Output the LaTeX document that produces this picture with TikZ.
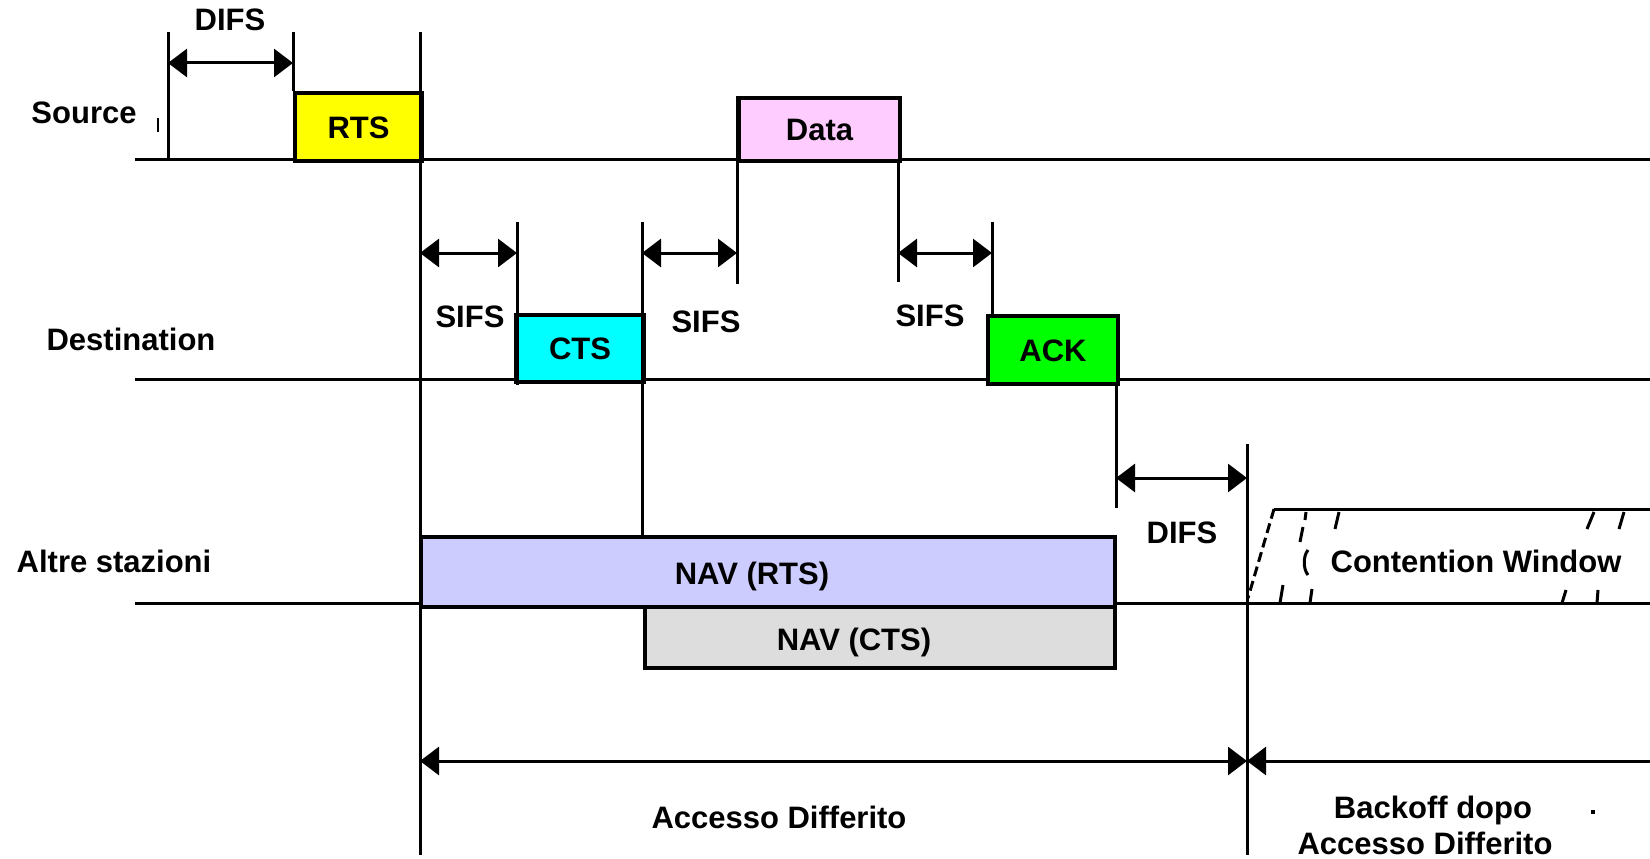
\documentclass[tikz,border=0pt]{standalone}
\usepackage{fontspec}
\setmainfont{Liberation Sans}
\usetikzlibrary{arrows.meta}
\definecolor{rtsy}{RGB}{255,255,0}
\definecolor{ctsc}{RGB}{0,255,255}
\definecolor{datap}{RGB}{255,204,255}
\definecolor{ackg}{RGB}{0,255,0}
\definecolor{navr}{RGB}{204,204,255}
\definecolor{navc}{RGB}{221,221,221}
\begin{document}
\begin{tikzpicture}[x=1pt,y=-1pt,
  lbl/.style={font=\bfseries\fontsize{31}{35}\selectfont, inner sep=0pt, text height=22pt, text depth=0pt},
  frame/.style={draw=black, line width=4pt, inner sep=0pt, anchor=north west, font=\bfseries\fontsize{31}{35}\selectfont, text height=22pt, text depth=0pt},
  ln/.style={line width=3pt},
  thinln/.style={line width=2.5pt},
  tipA/.tip={Triangle[length=19pt,width=28pt]},
  dur/.style={line width=3pt, tipA-tipA},
  durl/.style={line width=3pt, tipA-},
  cw/.style={line width=3pt},
]
\useasboundingbox (0,0) rectangle (1650,859);

% ---------- baselines ----------
\coordinate (s0) at (135,159); \coordinate (s1) at (1650,159);
\coordinate (d0) at (135,379); \coordinate (d1) at (1650,379);
\coordinate (a0) at (135,603); \coordinate (a1) at (1650,603);
\draw[ln] (s0) -- (s1);
\draw[ln] (d0) -- (d1);
\draw[ln] (a0) -- (a1);

% ---------- boxes ----------
\node[frame, fill=rtsy, minimum width=127pt, minimum height=68pt] (rts) at (293,91) {RTS};
\node[frame, fill=datap, minimum width=161pt, minimum height=63pt] (data) at (737,96) {Data};
\node[frame, fill=ctsc, minimum width=128pt, minimum height=67pt] (cts) at (514,313) {CTS};
\node[frame, fill=ackg, minimum width=130pt, minimum height=68pt] (ack) at (986,314) {ACK};
\node[frame, fill=navr, minimum width=694pt, minimum height=70pt] (navr) at (419,535) {};
\node[frame, fill=navc, minimum width=470pt, minimum height=61pt] (navc) at (643,605) {};

% ---------- vertical timing lines ----------
\coordinate (v1t) at (168,32);  \coordinate (v1b) at (168,159);
\coordinate (v2t) at (293,32);  \coordinate (v2b) at (293,91);
\coordinate (v3t) at (420,32);  \coordinate (v3b) at (420,855);
\coordinate (v4t) at (517,222); \coordinate (v4b) at (517,385);
\coordinate (v5t) at (642,222); \coordinate (v5b) at (642,535);
\coordinate (v6t) at (737,96);  \coordinate (v6b) at (737,284);
\coordinate (v7t) at (898,159); \coordinate (v7b) at (898,282);
\coordinate (v8t) at (992,222); \coordinate (v8b) at (992,314);
\coordinate (v9t) at (1116,382);\coordinate (v9b) at (1116,508);
\coordinate (v10t) at (1247,444);\coordinate (v10b) at (1247,855);
\foreach \v in {1,...,10} \draw[ln] (v\v t) -- (v\v b);
\coordinate (tk1) at (158,118); \coordinate (tk2) at (158,132);
\draw[thinln] (tk1) -- (tk2);

% ---------- duration arrows ----------
\coordinate (difs1a) at (168,63);  \coordinate (difs1b) at (293,63);
\draw[dur] (difs1a) -- (difs1b);
\coordinate (sifs1a) at (420,253); \coordinate (sifs1b) at (517,253);
\draw[dur] (sifs1a) -- (sifs1b);
\coordinate (sifs2a) at (642,253); \coordinate (sifs2b) at (737,253);
\draw[dur] (sifs2a) -- (sifs2b);
\coordinate (sifs3a) at (898,253); \coordinate (sifs3b) at (992,253);
\draw[dur] (sifs3a) -- (sifs3b);
\coordinate (difs2a) at (1116,478); \coordinate (difs2b) at (1247,478);
\draw[dur] (difs2a) -- (difs2b);
\coordinate (accA) at (420,761); \coordinate (accB) at (1247,761); \coordinate (accC) at (1650,761);
\draw[dur] (accA) -- (accB);
\draw[durl] (accB) -- (accC);

% ---------- contention window ----------
\coordinate (cw0) at (1274,509); \coordinate (cw1) at (1650,509); \coordinate (cw2) at (1248,598);
\draw[cw] (cw0) -- (cw1);
\draw[cw, dash pattern=on 10pt off 5pt] (cw0) -- (cw2);
\draw[cw] (1306,512) -- (1305,520) (1303,527) -- (1300,542);
\draw[cw] (1308,550) .. controls (1303,556) and (1303,569) .. (1308,575);
\draw[cw] (1312,589) -- (1310,603);
\draw[cw] (1339,512) -- (1335,529);
\draw[cw] (1283,585) -- (1280,603);
\draw[cw] (1594,512) -- (1587,529);
\draw[cw] (1624,512) -- (1619,529);
\draw[cw] (1566,590) -- (1562,603);
\draw[cw] (1598,590) -- (1597,603);
\fill (1591,810) rectangle (1595,814);

% ---------- labels ----------
\node[lbl] (lDIFS1) at (230,20) {DIFS};
\node[lbl] (lSource) at (84,113) {Source};
\node[lbl] (lDest) at (131,339) {Destination};
\node[lbl] (lAltre) at (114,561) {Altre stazioni};
\node[lbl] (lS1) at (470,316) {SIFS};
\node[lbl] (lS2) at (706,321) {SIFS};
\node[lbl] (lS3) at (930,315) {SIFS};
\node[lbl] (lDIFS2) at (1182,532) {DIFS};
\node[lbl] (lCW) at (1476,561) {Contention Window};
\node[lbl] (lNR) at (752,573) {NAV (RTS)};
\node[lbl] (lNC) at (854,639) {NAV (CTS)};
\node[lbl] (lAcc) at (779,817) {Accesso Differito};
\node[lbl] (lBk1) at (1433,807) {Backoff dopo};
\node[lbl] (lBk2) at (1425,843) {Accesso Differito};
\end{tikzpicture}
\end{document}
